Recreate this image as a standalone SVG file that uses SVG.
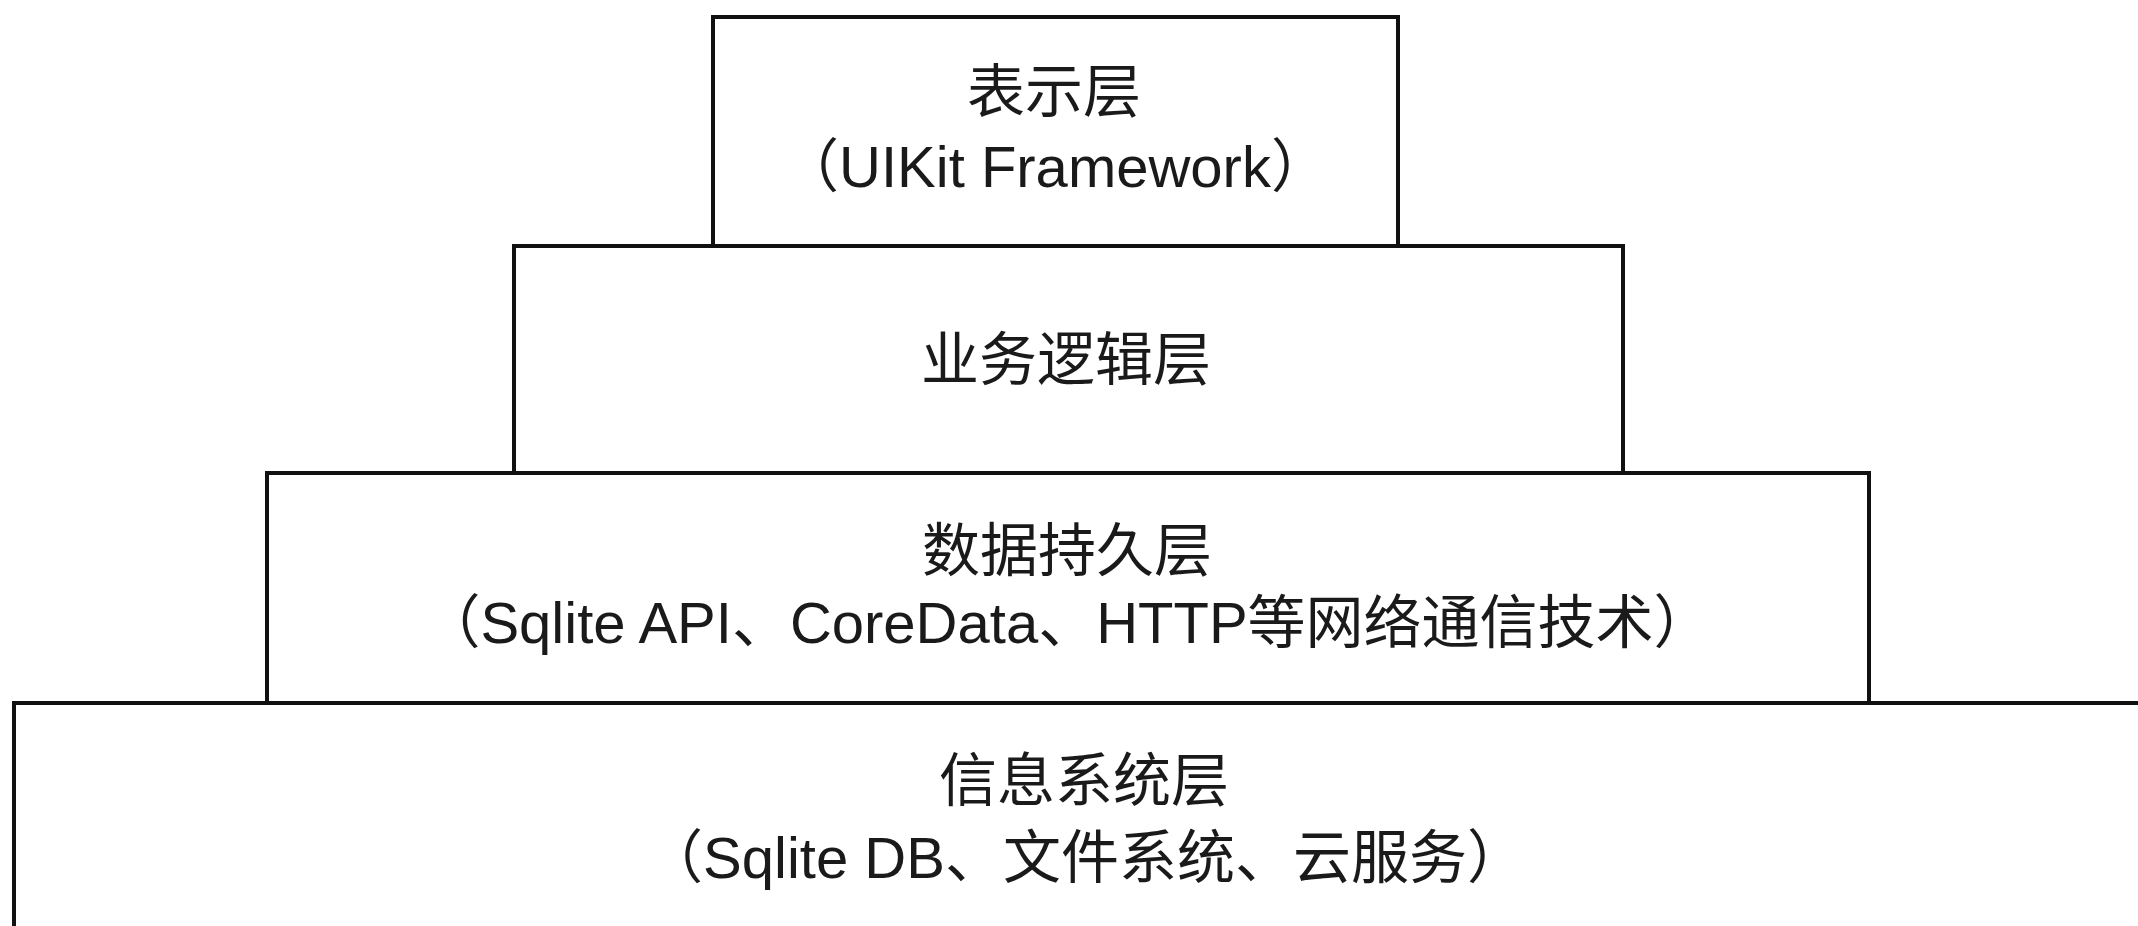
<svg xmlns="http://www.w3.org/2000/svg" width="2138" height="926" viewBox="0 0 2138 926">
<style>
.box{fill:#fff;stroke:#111;stroke-width:4}
.t{font-family:"Liberation Sans","Noto Sans CJK SC",Arial,sans-serif;font-size:58px;fill:#1a1a1a;text-anchor:middle}
</style>
<rect x="0" y="0" width="2138" height="926" fill="#fff"/>
<g id="layer4">
<rect class="box" x="14" y="703" width="2140" height="240"/>
<text class="t" x="1084" y="801">信息系统层</text>
<text class="t" x="1085" y="878">（Sqlite DB、文件系统、云服务）</text>
</g>
<g id="layer3">
<rect class="box" x="267" y="473" width="1602" height="230"/>
<text class="t" x="1067" y="571">数据持久层</text>
<text class="t" x="1067" y="643">（Sqlite API、CoreData、HTTP等网络通信技术）</text>
</g>
<g id="layer2">
<rect class="box" x="514" y="246" width="1109" height="227"/>
<text class="t" x="1066" y="380">业务逻辑层</text>
</g>
<g id="layer1">
<rect class="box" x="713" y="17" width="685" height="229"/>
<text class="t" x="1054" y="112">表示层</text>
<text class="t" x="1055" y="187">（UIKit Framework）</text>
</g>
<g id="connectors"></g>
</svg>
